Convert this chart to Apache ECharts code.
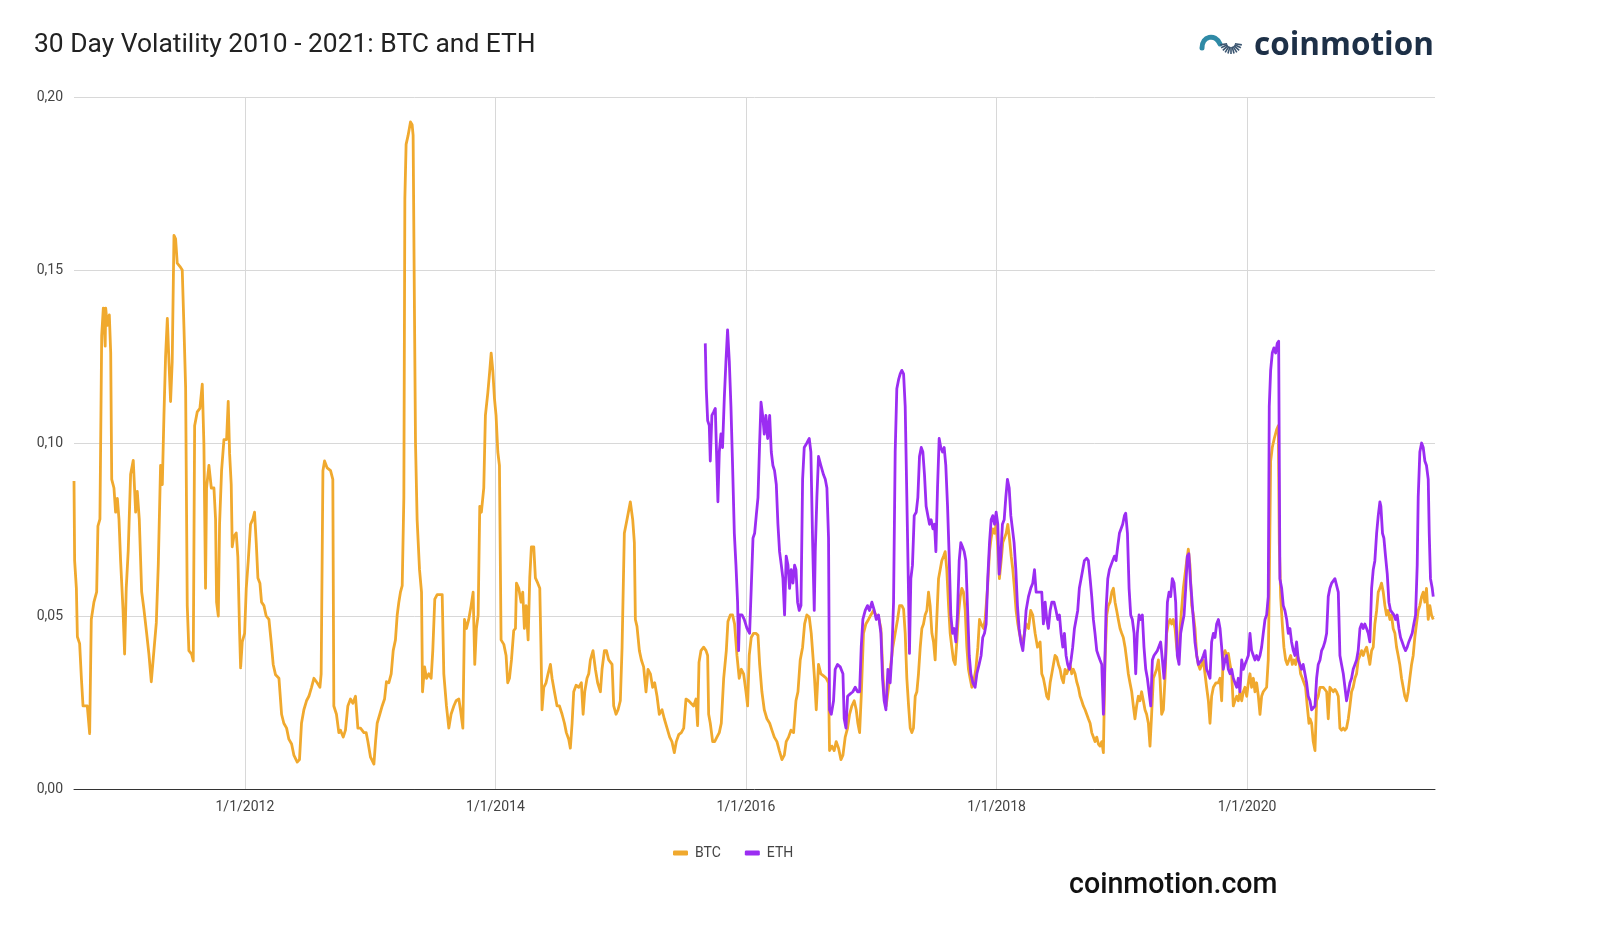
<!DOCTYPE html>
<html><head><meta charset="utf-8">
<script src="https://cdn.jsdelivr.net/npm/echarts@6/dist/echarts.min.js"></script>
<style>html,body{margin:0;padding:0;background:#fff}#chart{width:1600px;height:940px}</style>
</head><body><div id="chart"></div>
<script>
const titleText = '30 Day Volatility 2010 - 2021: BTC and ETH';
const brandText = 'coinmotion';
const footerText = 'coinmotion.com';
const seriesNames = ['BTC', 'ETH'];
const xTickYears = [2012, 2014, 2016, 2018, 2020];
const xRange = [2010.636, 2021.5];
const yRange = [0, 0.2];
const yStep = 0.05;

// [decimal year, 30-day volatility]
const btc = [
[2010.636,0.089],[2010.641,0.066],[2010.655,0.058],[2010.663,0.044],[2010.681,0.042],[2010.695,0.032],[2010.708,0.024],[2010.742,0.024],[2010.761,0.016],[2010.774,0.049],[2010.795,0.054],[2010.817,0.057],[2010.827,0.076],[2010.843,0.078],[2010.857,0.131],[2010.870,0.139],[2010.880,0.139],[2010.885,0.128],[2010.889,0.139],[2010.902,0.134],[2010.918,0.137],[2010.929,0.126],[2010.937,0.0895],[2010.955,0.087],[2010.968,0.080],[2010.982,0.084],[2010.995,0.078],[2011.008,0.066],[2011.027,0.052],[2011.040,0.039],[2011.053,0.058],[2011.069,0.069],[2011.088,0.091],[2011.109,0.095],[2011.128,0.080],[2011.141,0.086],[2011.157,0.078],[2011.176,0.057],[2011.194,0.052],[2011.216,0.045],[2011.234,0.039],[2011.253,0.031],[2011.274,0.040],[2011.293,0.048],[2011.309,0.065],[2011.327,0.0935],[2011.341,0.088],[2011.354,0.108],[2011.367,0.125],[2011.381,0.136],[2011.394,0.1235],[2011.407,0.112],[2011.420,0.1235],[2011.434,0.160],[2011.447,0.159],[2011.460,0.152],[2011.482,0.151],[2011.500,0.150],[2011.514,0.133],[2011.527,0.116],[2011.540,0.053],[2011.553,0.040],[2011.575,0.039],[2011.588,0.037],[2011.599,0.105],[2011.620,0.109],[2011.641,0.110],[2011.660,0.117],
[2011.668,0.117],[2011.673,0.0995],[2011.686,0.058],[2011.694,0.087],[2011.713,0.0935],[2011.732,0.087],[2011.753,0.087],[2011.766,0.078],[2011.774,0.054],[2011.788,0.050],[2011.798,0.0765],[2011.814,0.092],[2011.833,0.101],[2011.854,0.101],[2011.867,0.112],[2011.878,0.097],[2011.891,0.088],[2011.899,0.070],[2011.912,0.073],[2011.931,0.074],[2011.944,0.067],[2011.958,0.045],[2011.966,0.035],[2011.979,0.0425],[2011.998,0.045],[2012.011,0.058],[2012.027,0.066],[2012.045,0.0765],[2012.064,0.078],[2012.077,0.080],[2012.091,0.071],[2012.104,0.061],[2012.120,0.0595],[2012.133,0.054],[2012.152,0.053],[2012.170,0.050],[2012.192,0.049],[2012.210,0.0425],[2012.226,0.036],[2012.245,0.033],[2012.272,0.032],[2012.293,0.0216],[2012.311,0.019],[2012.333,0.0176],[2012.351,0.0144],[2012.373,0.013],[2012.391,0.0098],[2012.418,0.0078],[2012.436,0.0085],[2012.452,0.019],[2012.471,0.0229],[2012.492,0.0255],[2012.511,0.0268],[2012.532,0.0294],[2012.551,0.032],[2012.577,0.0307],[2012.599,0.0294],[2012.609,0.0333],[2012.623,0.092],[2012.636,0.0948],[2012.657,0.0928],[2012.684,0.092],[2012.702,0.0895],[2012.710,0.024],[2012.731,0.0216],[2012.750,0.0163],[2012.763,0.017],
[2012.785,0.015],[2012.803,0.017],[2012.822,0.024],[2012.843,0.026],[2012.862,0.0248],[2012.883,0.0268],[2012.902,0.0176],[2012.923,0.0176],[2012.950,0.0163],[2012.968,0.0163],[2012.982,0.0137],[2013.003,0.0092],[2013.030,0.0072],[2013.043,0.0137],[2013.056,0.019],[2013.077,0.0216],[2013.096,0.024],[2013.115,0.026],[2013.130,0.031],[2013.149,0.0307],[2013.168,0.0333],[2013.184,0.040],[2013.202,0.0431],[2013.216,0.0503],[2013.229,0.054],[2013.242,0.0569],[2013.256,0.0588],[2013.269,0.0843],[2013.277,0.1706],[2013.287,0.1863],[2013.303,0.1889],[2013.322,0.1928],[2013.335,0.192],[2013.343,0.1889],[2013.354,0.1366],[2013.362,0.100],[2013.375,0.0778],[2013.394,0.0634],[2013.410,0.0569],[2013.418,0.0281],[2013.434,0.0353],[2013.450,0.032],[2013.468,0.0333],[2013.487,0.032],[2013.500,0.040],[2013.516,0.0549],[2013.535,0.0562],[2013.556,0.0562],[2013.575,0.0562],[2013.588,0.0333],[2013.609,0.024],[2013.628,0.0176],[2013.646,0.0216],[2013.668,0.024],[2013.686,0.0255],[2013.708,0.026],[2013.721,0.0229],[2013.740,0.0176],[2013.753,0.049],[2013.769,0.0464],[2013.787,0.049],[2013.806,0.053],[2013.822,0.0569],[2013.835,0.036],[2013.848,0.0464],[2013.862,0.0503],[2013.875,0.0817],
[2013.888,0.080],[2013.907,0.087],[2013.920,0.108],[2013.939,0.1144],[2013.955,0.121],[2013.966,0.126],[2013.979,0.121],[2013.992,0.113],[2014.005,0.108],[2014.019,0.0974],[2014.032,0.0935],[2014.045,0.0431],[2014.067,0.0418],[2014.085,0.0386],[2014.098,0.0307],[2014.112,0.032],[2014.128,0.0373],[2014.146,0.0458],[2014.160,0.0464],[2014.168,0.0595],[2014.186,0.058],[2014.205,0.054],[2014.218,0.0569],[2014.231,0.0464],[2014.245,0.053],[2014.261,0.0431],[2014.274,0.061],[2014.287,0.070],[2014.306,0.070],[2014.319,0.061],[2014.338,0.0595],[2014.354,0.058],[2014.364,0.040],[2014.372,0.0229],[2014.386,0.0294],[2014.404,0.0307],[2014.420,0.0333],[2014.439,0.036],[2014.452,0.032],[2014.471,0.0281],[2014.492,0.024],[2014.511,0.024],[2014.532,0.0216],[2014.551,0.019],[2014.566,0.0163],[2014.585,0.0144],[2014.598,0.0118],[2014.612,0.019],[2014.625,0.0281],[2014.644,0.030],[2014.665,0.0294],[2014.686,0.0307],[2014.700,0.0216],[2014.713,0.0281],[2014.731,0.032],[2014.745,0.0333],[2014.758,0.0373],[2014.779,0.040],[2014.798,0.0346],[2014.816,0.0307],[2014.838,0.0281],[2014.851,0.0346],[2014.870,0.040],[2014.886,0.040],[2014.904,0.0373],[2014.931,0.036],[2014.944,0.024],[2014.963,0.0216],[2014.979,0.0229],[2014.997,0.0255],
[2015.011,0.041],[2015.029,0.0739],[2015.050,0.0778],[2015.077,0.083],[2015.096,0.0778],[2015.109,0.0712],[2015.117,0.049],[2015.130,0.047],[2015.149,0.040],[2015.165,0.0373],[2015.183,0.0353],[2015.202,0.0281],[2015.218,0.0346],[2015.237,0.0333],[2015.255,0.0294],[2015.271,0.0307],[2015.290,0.0268],[2015.308,0.0216],[2015.330,0.0229],[2015.348,0.0203],[2015.370,0.0176],[2015.391,0.015],[2015.409,0.0137],[2015.428,0.0105],[2015.444,0.0137],[2015.463,0.0157],[2015.484,0.0163],[2015.503,0.0176],[2015.521,0.026],[2015.542,0.0255],[2015.561,0.0248],[2015.582,0.024],[2015.601,0.026],[2015.614,0.0183],[2015.625,0.0366],[2015.641,0.040],[2015.662,0.041],[2015.681,0.040],[2015.694,0.0386],[2015.702,0.0216],[2015.715,0.019],[2015.734,0.0137],[2015.750,0.0137],[2015.768,0.015],[2015.787,0.0163],[2015.803,0.019],[2015.822,0.032],[2015.843,0.040],[2015.856,0.0484],[2015.875,0.0503],[2015.893,0.0503],[2015.909,0.0477],[2015.928,0.0386],[2015.946,0.032],[2015.963,0.0346],[2015.981,0.0333],[2016.000,0.0281],[2016.013,0.024],[2016.026,0.0386],[2016.042,0.0438],[2016.061,0.045],[2016.079,0.045],[2016.096,0.0444],[2016.109,0.036],
[2016.127,0.0281],[2016.146,0.0229],[2016.167,0.0203],[2016.189,0.019],[2016.207,0.017],[2016.226,0.015],[2016.247,0.0137],[2016.266,0.0111],[2016.287,0.0085],[2016.306,0.0098],[2016.321,0.0137],[2016.340,0.015],[2016.359,0.017],[2016.380,0.0163],[2016.399,0.0255],[2016.415,0.0281],[2016.433,0.0373],[2016.452,0.041],[2016.468,0.0477],[2016.486,0.0503],[2016.505,0.0497],[2016.521,0.045],[2016.534,0.0386],[2016.547,0.032],[2016.561,0.0229],[2016.579,0.036],[2016.598,0.0333],[2016.619,0.0327],[2016.641,0.032],[2016.659,0.0307],[2016.667,0.0111],[2016.686,0.0124],[2016.704,0.0111],[2016.720,0.0137],[2016.739,0.0118],[2016.758,0.0085],[2016.774,0.0098],[2016.792,0.015],[2016.811,0.0176],[2016.827,0.0216],[2016.845,0.024],[2016.864,0.0255],[2016.880,0.0229],[2016.893,0.019],[2016.907,0.0163],[2016.920,0.0268],[2016.938,0.045],[2016.957,0.0477],[2016.978,0.049],[2016.997,0.0503],[2017.018,0.0516],[2017.037,0.0503],[2017.058,0.0497],[2017.077,0.0464],[2017.093,0.0333],[2017.106,0.0255],[2017.119,0.024],[2017.138,0.0294],[2017.156,0.036],[2017.172,0.041],[2017.191,0.045],[2017.210,0.049],[2017.226,0.053],
[2017.244,0.053],[2017.258,0.052],[2017.271,0.045],[2017.284,0.032],[2017.298,0.024],[2017.311,0.0176],[2017.324,0.0163],[2017.337,0.0176],[2017.351,0.0268],[2017.364,0.0281],[2017.377,0.0333],[2017.391,0.041],[2017.404,0.0464],[2017.417,0.0477],[2017.430,0.0503],[2017.444,0.0516],[2017.457,0.0569],[2017.470,0.053],[2017.484,0.045],[2017.497,0.0425],[2017.510,0.0373],[2017.523,0.049],[2017.537,0.0608],[2017.550,0.0634],[2017.563,0.066],[2017.577,0.0673],[2017.590,0.0686],[2017.603,0.0634],[2017.617,0.053],[2017.630,0.045],[2017.643,0.041],[2017.656,0.0373],[2017.670,0.036],[2017.683,0.0425],[2017.696,0.0503],[2017.710,0.0556],[2017.723,0.058],[2017.736,0.0569],[2017.750,0.0516],[2017.763,0.041],[2017.776,0.0346],[2017.789,0.032],[2017.803,0.0294],[2017.816,0.0307],[2017.835,0.0346],[2017.851,0.041],[2017.864,0.049],[2017.877,0.0477],[2017.896,0.0464],[2017.909,0.049],[2017.928,0.058],[2017.944,0.0686],[2017.957,0.0725],[2017.970,0.0752],[2017.984,0.0739],[2017.997,0.0765],[2018.010,0.070],[2018.023,0.0608],[2018.037,0.066],[2018.050,0.0712],[2018.063,0.0712],[2018.077,0.0739],[2018.090,0.0765],[2018.103,0.0725],[2018.117,0.0673],[2018.130,0.0634],[2018.143,0.058],[2018.156,0.0516],[2018.170,0.0477],[2018.183,0.045],[2018.196,0.0431],[2018.210,0.0425],[2018.223,0.045],[2018.236,0.0477],[2018.255,0.0464],[2018.273,0.0516],[2018.289,0.0503],[2018.308,0.045],[2018.327,0.041],
[2018.348,0.0425],[2018.361,0.0333],[2018.374,0.032],[2018.388,0.0294],[2018.401,0.0268],[2018.414,0.026],[2018.428,0.0307],[2018.441,0.0333],[2018.454,0.036],[2018.467,0.0386],[2018.481,0.038],[2018.494,0.036],[2018.507,0.0346],[2018.521,0.032],[2018.534,0.0307],[2018.547,0.0346],[2018.560,0.0333],[2018.574,0.0346],[2018.587,0.036],[2018.600,0.0333],[2018.613,0.0346],[2018.627,0.0333],[2018.640,0.031],[2018.653,0.0294],[2018.667,0.0268],[2018.680,0.0255],[2018.693,0.024],[2018.707,0.0229],[2018.720,0.0216],[2018.733,0.0203],[2018.747,0.019],[2018.760,0.0163],[2018.773,0.015],[2018.786,0.0137],[2018.800,0.015],[2018.813,0.013],[2018.826,0.0124],[2018.840,0.0137],[2018.853,0.0105],[2018.866,0.0373],[2018.880,0.0503],[2018.893,0.053],[2018.906,0.054],[2018.920,0.0569],[2018.933,0.058],[2018.946,0.054],[2018.959,0.0516],[2018.972,0.049],[2018.986,0.0464],[2018.999,0.045],[2019.012,0.0438],[2019.026,0.041],[2019.039,0.0373],[2019.052,0.0333],[2019.065,0.0307],[2019.079,0.0281],[2019.092,0.024],[2019.105,0.0203],[2019.118,0.024],[2019.132,0.0268],[2019.145,0.0255],[2019.158,0.0281],[2019.172,0.0255],[2019.185,0.0229],[2019.198,0.0216],[2019.212,0.019],[2019.225,0.0124],[2019.238,0.0216],[2019.252,0.032],[2019.265,0.0333],[2019.278,0.0346],[2019.292,0.0373],[2019.305,0.032],[2019.318,0.0216],[2019.332,0.0229],[2019.345,0.032],[2019.358,0.045],[2019.371,0.0477],[2019.385,0.049],[2019.398,0.0477],[2019.411,0.049],[2019.425,0.0464],[2019.438,0.041],[2019.451,0.0373],
[2019.465,0.0464],[2019.491,0.058],[2019.518,0.066],[2019.531,0.0693],[2019.544,0.0647],[2019.558,0.053],[2019.571,0.0503],[2019.584,0.0464],[2019.598,0.0386],[2019.611,0.036],[2019.624,0.0346],[2019.638,0.036],[2019.651,0.0373],[2019.664,0.0333],[2019.677,0.0294],[2019.691,0.0255],[2019.704,0.019],[2019.717,0.0268],[2019.731,0.0294],[2019.752,0.0307],[2019.770,0.0307],[2019.784,0.032],[2019.797,0.0255],[2019.810,0.0386],[2019.824,0.040],[2019.837,0.0386],[2019.850,0.0392],[2019.864,0.036],[2019.877,0.0333],[2019.890,0.024],[2019.903,0.0255],[2019.917,0.0268],[2019.930,0.0255],[2019.943,0.0281],[2019.957,0.0255],[2019.970,0.0281],[2019.983,0.0294],[2019.997,0.0268],[2020.010,0.0307],[2020.023,0.0333],[2020.036,0.0294],[2020.050,0.032],[2020.063,0.0281],[2020.076,0.0307],[2020.090,0.0268],[2020.103,0.0216],[2020.116,0.0268],[2020.129,0.0281],[2020.143,0.0281],[2020.156,0.0294],[2020.169,0.0373],[2020.177,0.058],[2020.188,0.0948],[2020.201,0.0987],[2020.217,0.1013],[2020.236,0.1039],[2020.249,0.105],[2020.257,0.0712],[2020.268,0.0556],[2020.281,0.0477],[2020.294,0.041],[2020.308,0.0373],[2020.321,0.036],[2020.334,0.0373],[2020.348,0.0386],[2020.361,0.036],[2020.374,0.0373],[2020.388,0.036],[2020.401,0.0386],[2020.414,0.0373],[2020.427,0.0333],[2020.441,0.032],[2020.454,0.0307],[2020.467,0.0294],[2020.480,0.024],[2020.494,0.019],
[2020.502,0.0203],[2020.515,0.019],[2020.528,0.0137],[2020.542,0.0111],[2020.555,0.0255],[2020.568,0.0268],[2020.582,0.0294],[2020.608,0.0294],[2020.635,0.0281],[2020.648,0.0203],[2020.661,0.0294],[2020.675,0.0294],[2020.688,0.0281],[2020.701,0.0288],[2020.714,0.0281],[2020.728,0.0268],[2020.741,0.0176],[2020.754,0.017],[2020.768,0.0176],[2020.781,0.017],[2020.794,0.0176],[2020.808,0.0203],[2020.821,0.024],[2020.834,0.0281],[2020.847,0.0294],[2020.861,0.032],[2020.874,0.0333],[2020.887,0.0373],[2020.901,0.0386],[2020.914,0.040],[2020.927,0.0386],[2020.940,0.040],[2020.954,0.041],[2020.967,0.0386],[2020.980,0.036],[2020.994,0.040],[2021.007,0.041],[2021.020,0.0477],[2021.034,0.0516],[2021.047,0.0569],[2021.060,0.058],[2021.073,0.0595],[2021.087,0.0569],[2021.100,0.053],[2021.113,0.0503],[2021.126,0.0516],[2021.140,0.049],[2021.153,0.0503],[2021.166,0.0464],[2021.180,0.045],[2021.193,0.041],[2021.206,0.0386],[2021.219,0.036],[2021.233,0.032],[2021.246,0.0294],[2021.259,0.0268],[2021.273,0.0255],[2021.286,0.0281],[2021.299,0.032],[2021.313,0.036],[2021.326,0.0386],[2021.339,0.0438],[2021.352,0.0477],[2021.366,0.0516],[2021.379,0.053],[2021.393,0.0556],[2021.406,0.0569],[2021.419,0.054],[2021.432,0.058],[2021.446,0.049],[2021.459,0.053],[2021.472,0.0503],[2021.486,0.049]
];

const eth = [
[2015.675,0.1288],[2015.683,0.1157],[2015.694,0.1065],[2015.707,0.105],[2015.715,0.0948],[2015.728,0.108],[2015.742,0.109],[2015.755,0.110],[2015.768,0.1105],[2015.776,0.083],[2015.787,0.0974],[2015.800,0.1026],[2015.813,0.0987],[2015.827,0.113],[2015.840,0.1235],[2015.853,0.1327],[2015.867,0.1235],[2015.880,0.1105],[2015.893,0.0935],[2015.907,0.0739],[2015.920,0.0647],[2015.933,0.054],[2015.941,0.040],[2015.949,0.0503],[2015.968,0.0503],[2015.986,0.049],[2016.008,0.0464],[2016.029,0.045],[2016.042,0.058],[2016.056,0.0725],[2016.069,0.0739],[2016.082,0.079],[2016.096,0.0843],[2016.109,0.100],[2016.120,0.1118],[2016.133,0.108],[2016.146,0.1026],[2016.159,0.108],[2016.173,0.1013],[2016.189,0.108],
[2016.202,0.0974],[2016.215,0.0935],[2016.228,0.092],[2016.242,0.088],[2016.255,0.0765],[2016.268,0.0686],[2016.282,0.0647],[2016.295,0.0608],[2016.308,0.0503],[2016.321,0.0673],[2016.335,0.0647],[2016.348,0.058],[2016.361,0.0634],[2016.375,0.0595],[2016.388,0.0647],[2016.399,0.0634],[2016.412,0.054],[2016.425,0.0516],[2016.439,0.053],[2016.452,0.0895],[2016.465,0.0987],[2016.486,0.100],[2016.505,0.1013],[2016.518,0.0974],[2016.532,0.0712],[2016.545,0.0516],[2016.553,0.0686],[2016.566,0.0843],[2016.579,0.0961],[2016.598,0.0935],[2016.619,0.0908],[2016.633,0.0895],[2016.646,0.087],[2016.659,0.0725],[2016.667,0.0229],[2016.681,0.0216],[2016.699,0.0255],[2016.712,0.0346],[2016.731,0.036],[2016.752,0.0353],[2016.774,0.0333],[2016.784,0.0203],[2016.798,0.0176],[2016.811,0.0268],[2016.832,0.0275],[2016.853,0.0281],[2016.872,0.0294],[2016.891,0.0281],[2016.907,0.0281],[2016.920,0.041],[2016.933,0.049],[2016.952,0.0516],[2016.970,0.053],[2016.986,0.0516],[2017.005,0.054],[2017.024,0.0516],[2017.040,0.049],[2017.058,0.0503],[2017.077,0.045],[2017.090,0.032],[2017.103,0.0255],[2017.117,0.0229],[2017.133,0.0346],[2017.151,0.0307],[2017.164,0.0386],[2017.178,0.054],[2017.191,0.0974],[2017.204,0.1157],[2017.218,0.1183],[2017.231,0.120],
[2017.244,0.121],[2017.258,0.120],[2017.271,0.1105],[2017.284,0.0843],[2017.298,0.0556],[2017.305,0.0392],[2017.316,0.0608],[2017.329,0.0647],[2017.343,0.079],[2017.359,0.080],[2017.372,0.0843],[2017.385,0.0961],[2017.399,0.0987],[2017.412,0.0974],[2017.425,0.0908],[2017.438,0.0817],[2017.452,0.079],[2017.465,0.0765],[2017.478,0.0778],[2017.492,0.0752],[2017.505,0.0765],[2017.516,0.0686],[2017.529,0.087],[2017.542,0.1013],[2017.555,0.0987],[2017.569,0.0974],[2017.582,0.0987],[2017.595,0.0935],[2017.609,0.0817],[2017.622,0.0673],[2017.635,0.0503],[2017.649,0.045],[2017.662,0.0464],[2017.675,0.0425],[2017.688,0.0503],[2017.702,0.066],[2017.715,0.0712],[2017.728,0.070],[2017.742,0.0686],[2017.755,0.066],[2017.768,0.053],[2017.782,0.0386],[2017.795,0.0333],[2017.811,0.0307],[2017.829,0.0294],[2017.843,0.0333],[2017.861,0.036],[2017.877,0.0386],[2017.890,0.0438],[2017.904,0.045],[2017.917,0.0477],[2017.930,0.0608],[2017.944,0.0712],[2017.957,0.0778],[2017.970,0.079],[2017.984,0.0765],[2017.997,0.080],[2018.010,0.0765],[2018.021,0.0621],[2018.034,0.0673],[2018.047,0.0765],[2018.061,0.0778],[2018.074,0.0843],[2018.087,0.0895],[2018.101,0.087],[2018.114,0.079],[2018.127,0.0752],[2018.140,0.0712],[2018.154,0.0634],[2018.167,0.053],[2018.180,0.0464],[2018.194,0.0425],[2018.210,0.040],[2018.223,0.045],[2018.236,0.0516],[2018.255,0.0556],[2018.273,0.058],[2018.289,0.0595],[2018.303,0.0634],[2018.316,0.0569],[2018.335,0.0569],
[2018.348,0.0569],[2018.361,0.0569],[2018.374,0.0477],[2018.388,0.054],[2018.401,0.049],[2018.414,0.0464],[2018.428,0.0516],[2018.441,0.054],[2018.459,0.054],[2018.475,0.0516],[2018.489,0.049],[2018.502,0.0503],[2018.515,0.045],[2018.529,0.041],[2018.542,0.045],[2018.555,0.0386],[2018.568,0.036],[2018.582,0.0346],[2018.595,0.0373],[2018.608,0.041],[2018.622,0.0464],[2018.635,0.049],[2018.648,0.0516],[2018.661,0.058],[2018.675,0.0608],[2018.688,0.0634],[2018.701,0.066],[2018.720,0.0667],[2018.733,0.066],[2018.747,0.0608],[2018.760,0.0556],[2018.773,0.049],[2018.786,0.045],[2018.800,0.040],[2018.813,0.0386],[2018.826,0.0373],[2018.840,0.036],[2018.853,0.0216],[2018.861,0.0307],[2018.874,0.0516],[2018.888,0.0608],[2018.901,0.0634],[2018.914,0.0647],[2018.927,0.066],[2018.941,0.0673],[2018.954,0.066],[2018.967,0.070],[2018.981,0.0739],[2018.994,0.0739],[2019.007,0.0765],[2019.021,0.079],[2019.031,0.0797],[2019.045,0.0739],[2019.058,0.058],[2019.071,0.0503],[2019.084,0.049],[2019.098,0.045],[2019.111,0.0333],[2019.124,0.045],[2019.138,0.0503],[2019.151,0.049],[2019.164,0.0503],[2019.177,0.041],[2019.191,0.0346],[2019.204,0.032],[2019.217,0.032],[2019.231,0.024],[2019.244,0.0373],[2019.257,0.0386],[2019.271,0.0386],[2019.284,0.040],[2019.297,0.040],[2019.310,0.0425],[2019.324,0.0373],[2019.337,0.032],[2019.350,0.0386],[2019.364,0.054],[2019.377,0.0569],[2019.390,0.0556],[2019.403,0.0608],[2019.417,0.0595],[2019.430,0.054],[2019.443,0.0386],[2019.457,0.036],
[2019.470,0.045],[2019.483,0.0477],[2019.497,0.0503],[2019.510,0.058],[2019.523,0.0673],[2019.535,0.068],[2019.548,0.060],[2019.558,0.0556],[2019.571,0.049],[2019.584,0.0425],[2019.598,0.0386],[2019.611,0.036],[2019.624,0.036],[2019.638,0.0373],[2019.651,0.0386],[2019.664,0.040],[2019.677,0.0346],[2019.691,0.0333],[2019.704,0.032],[2019.717,0.0425],[2019.731,0.045],[2019.744,0.0438],[2019.757,0.0477],[2019.771,0.049],[2019.784,0.0464],[2019.797,0.041],[2019.810,0.0346],[2019.824,0.0373],[2019.837,0.0386],[2019.850,0.0346],[2019.864,0.0333],[2019.877,0.0346],[2019.890,0.032],[2019.903,0.0307],[2019.917,0.0294],[2019.930,0.032],[2019.943,0.0281],[2019.957,0.0373],[2019.970,0.0346],[2019.983,0.036],[2019.997,0.0373],[2020.010,0.0386],[2020.023,0.045],[2020.036,0.040],[2020.050,0.0386],[2020.063,0.0373],[2020.076,0.0386],[2020.090,0.0373],[2020.103,0.0386],[2020.116,0.041],[2020.129,0.045],[2020.143,0.049],[2020.156,0.0503],[2020.169,0.0556],[2020.177,0.1105],[2020.188,0.121],[2020.201,0.126],[2020.214,0.1275],[2020.228,0.126],[2020.241,0.1288],[2020.252,0.1294],[2020.262,0.0608],[2020.276,0.058],[2020.289,0.053],[2020.302,0.0516],[2020.316,0.049],[2020.329,0.045],[2020.342,0.0464],[2020.355,0.0425],[2020.369,0.040],[2020.382,0.0386],[2020.395,0.0425],[2020.409,0.0373],[2020.422,0.036],[2020.435,0.0346],[2020.448,0.036],[2020.462,0.0333],[2020.475,0.0307],[2020.488,0.0268],[2020.502,0.0255],[2020.515,0.0229],[2020.528,0.0229],
[2020.542,0.024],[2020.555,0.032],[2020.568,0.036],[2020.582,0.0373],[2020.595,0.040],[2020.608,0.041],[2020.621,0.0425],[2020.635,0.045],[2020.648,0.0556],[2020.661,0.058],[2020.675,0.0595],[2020.688,0.0595],[2020.701,0.0608],[2020.714,0.0608],[2020.728,0.0569],[2020.741,0.0386],[2020.754,0.036],[2020.768,0.0333],[2020.781,0.0294],[2020.794,0.0255],[2020.808,0.0281],[2020.821,0.0307],[2020.834,0.032],[2020.847,0.0346],[2020.861,0.036],[2020.874,0.0373],[2020.887,0.040],[2020.901,0.0464],[2020.914,0.0477],[2020.927,0.0464],[2020.940,0.0477],[2020.954,0.0464],[2020.967,0.045],[2020.980,0.0425],[2020.994,0.058],[2021.007,0.0634],[2021.020,0.066],[2021.034,0.0739],[2021.047,0.079],[2021.060,0.083],[2021.068,0.0817],[2021.081,0.0739],[2021.092,0.0725],[2021.105,0.0673],[2021.119,0.0621],[2021.132,0.054],[2021.145,0.0516],[2021.158,0.0516],[2021.172,0.0503],[2021.185,0.049],[2021.198,0.0503],[2021.212,0.0464],[2021.225,0.0438],[2021.238,0.0425],[2021.252,0.041],[2021.265,0.040],[2021.278,0.041],[2021.291,0.0425],[2021.305,0.0438],[2021.318,0.045],[2021.331,0.0477],[2021.345,0.0503],[2021.358,0.0647],[2021.366,0.0843],[2021.379,0.0974],[2021.393,0.100],[2021.406,0.0987],[2021.419,0.0948],[2021.432,0.0935],[2021.446,0.0895],[2021.454,0.0739],[2021.464,0.0608],[2021.478,0.058],[2021.486,0.0556]
];

const colors = { BTC: '#F0A92E', ETH: '#9B2DF2' };
const byX = (a, b) => a[0] - b[0];
btc.sort(byX); eth.sort(byX);

const chart = echarts.init(document.getElementById('chart'), null, { renderer: 'canvas' });

// decorative logo mark
const logoGraphics = [
  { type: 'bezierCurve', shape: { x1: 1202, y1: 48, cpx1: 1202, cpy1: 36, cpx2: 1215, cpy2: 33, x2: 1220, y2: 44 },
    style: { stroke: '#2f8aa6', lineWidth: 5, lineCap: 'round', fill: null } }
];
for (let i = 0; i <= 10; i++) {
  const a = (170 - i * 16) * Math.PI / 180;
  const cx = 1231, cy = 43, r1 = 4, r2 = 11;
  logoGraphics.push({ type: 'line', shape: { x1: cx + r1 * Math.cos(a), y1: cy + r1 * Math.sin(a), x2: cx + r2 * Math.cos(a), y2: cy + r2 * Math.sin(a) },
    style: { stroke: '#3a5570', lineWidth: 1.6 } });
}

chart.setOption({
  animation: false,
  backgroundColor: '#ffffff',
  textStyle: { fontFamily: 'Roboto, sans-serif' },
  grid: { left: 74, right: 165, top: 97, bottom: 151, containLabel: false },
  legend: {
    data: seriesNames, left: 668, top: 841, icon: 'roundRect', itemWidth: 15, itemHeight: 5, itemGap: 24,
    textStyle: { fontSize: 14, color: '#444', fontFamily: 'Roboto', padding: [0, 0, 0, 2] }
  },
  graphic: [
    { type: 'text', left: 34, top: 32, style: { text: titleText, font: '400 26.4px Roboto', fill: '#222' } },
    { type: 'text', x: 1254, y: 46, style: { text: brandText, font: '700 31.5px "Open Sans"', fill: '#1d3047', verticalAlign: 'middle' } },
    { type: 'text', x: 1069, y: 886, style: { text: footerText, font: '500 28.6px Roboto', fill: '#111', verticalAlign: 'middle' } },
    ...logoGraphics
  ],
  xAxis: {
    type: 'value', min: xRange[0], max: xRange[1],
    axisLine: { show: true, onZero: false, lineStyle: { color: '#333', width: 1 } },
    axisTick: { show: false, customValues: xTickYears },
    axisLabel: { customValues: xTickYears, formatter: v => '1/1/' + Math.round(v), color: '#444', fontSize: 14, margin: 11 },
    splitLine: { show: true, lineStyle: { color: '#d8d8d8', width: 1 } }
  },
  yAxis: {
    type: 'value', min: yRange[0], max: yRange[1], interval: yStep,
    axisLine: { show: false }, axisTick: { show: false },
    axisLabel: { formatter: v => v.toFixed(2).replace('.', ','), color: '#444', fontSize: 14, margin: 11 },
    splitLine: { show: true, lineStyle: { color: '#d8d8d8', width: 1 } }
  },
  series: [
    { name: 'BTC', type: 'line', data: btc, showSymbol: false, symbol: 'none', color: colors.BTC,
      lineStyle: { width: 2.8, color: colors.BTC, join: 'round' }, z: 2 },
    { name: 'ETH', type: 'line', data: eth, showSymbol: false, symbol: 'none', color: colors.ETH,
      lineStyle: { width: 2.8, color: colors.ETH, join: 'round' }, z: 3 }
  ]
});
</script>
</body></html>
